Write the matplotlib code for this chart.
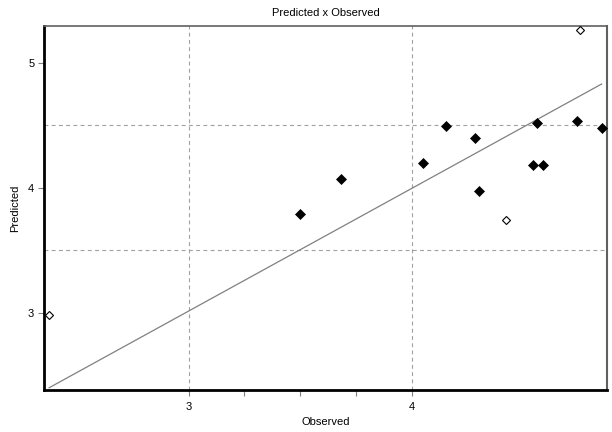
import matplotlib
matplotlib.use("Agg")
import matplotlib.pyplot as plt
from matplotlib.ticker import FixedLocator

plt.rcParams['font.family'] = ['Liberation Sans', 'DejaVu Sans']

# Data
obs_filled = [3.50, 3.68, 4.05, 4.15, 4.28, 4.30, 4.56, 4.74, 4.85, 4.54, 4.585]
pred_filled = [3.79, 4.07, 4.20, 4.49, 4.40, 3.97, 4.52, 4.53, 4.48, 4.18, 4.18]
obs_open = [2.376, 4.749, 4.42]
pred_open = [2.985, 5.262, 3.742]
fit_x = [2.376, 4.848]
fit_y = [2.40, 4.83]

title = "Predicted x Observed"
xlabel = "Observed"
ylabel = "Predicted"
xmajor = [3, 4]
xminor = [3.25, 3.5, 3.75]
ymajor = [3, 4, 5]
xgrid = [3, 4]
ygrid = [3.5, 4.5]

fig = plt.figure(figsize=(6.12, 4.32), dpi=100)
ax = fig.add_axes([44/612, 1-390/432, (607-44)/612, (390-26)/432])

for gx in xgrid:
    ax.axvline(gx, color='#a0a0a0', lw=0.8, ls=(0, (3.5, 3)), zorder=1)
for gy in ygrid:
    ax.axhline(gy, color='#a0a0a0', lw=0.8, ls=(0, (3.5, 3)), zorder=1)

ax.plot(fit_x, fit_y, color='#808080', lw=0.9, zorder=2)
ax.plot(obs_filled, pred_filled, ls='none', marker='D', ms=4.6, mfc='black',
        mec='black', mew=0.5, zorder=3)
ax.plot(obs_open, pred_open, ls='none', marker='D', ms=4.2, mfc='white',
        mec='black', mew=0.8, zorder=3)

ax.set_xlim(2.353, 4.872)
ax.set_ylim(2.382, 5.294)

ax.xaxis.set_major_locator(FixedLocator(xmajor))
ax.xaxis.set_minor_locator(FixedLocator(xminor))
ax.yaxis.set_major_locator(FixedLocator(ymajor))
ax.set_xticklabels([str(v) for v in xmajor])
ax.set_yticklabels([str(v) for v in ymajor])
ax.tick_params(axis='both', which='both', direction='out', length=4,
               width=0.8, color='#808080', labelsize=8)
ax.tick_params(axis='x', pad=5)
ax.tick_params(axis='y', pad=3)

ax.spines['left'].set_linewidth(2)
ax.spines['bottom'].set_linewidth(2)
ax.spines['left'].set_color('black')
ax.spines['bottom'].set_color('black')
ax.spines['top'].set_linewidth(1.2)
ax.spines['right'].set_linewidth(1.5)
ax.spines['top'].set_color('#606060')
ax.spines['right'].set_color('#606060')

ax.set_title(title, fontsize=8, pad=7)
ax.set_xlabel(xlabel, fontsize=8, labelpad=3)
ax.set_ylabel(ylabel, fontsize=8, labelpad=6)

fig.savefig("out.png", dpi=100)
